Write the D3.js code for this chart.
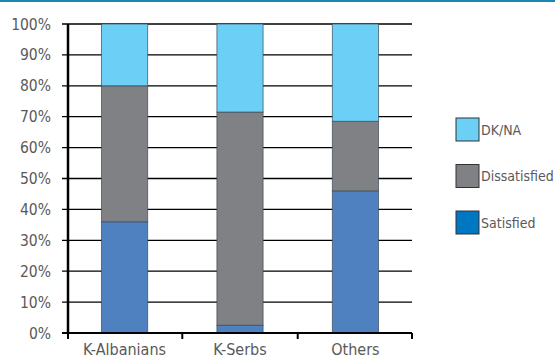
<!DOCTYPE html>
<style>
    body { margin: 0; background: #fff; }
    svg text { font-family: 'DejaVu Sans Condensed', 'Liberation Sans Narrow', sans-serif; font-stretch: condensed; fill: #595959; }
</style>
<svg width="555" height="358"></svg>
<script src="https://d3js.org/d3.v7.min.js"></script>
<script>
    // data
    var groups = ["K-Albanians", "K-Serbs", "Others"];
    var keys = ["Satisfied", "Dissatisfied", "DK/NA"];
    var satisfied = [36, 2.5, 46];
    var dissatisfied = [44, 69, 22.5];
    var dknA = [20, 28.5, 31.5];
    var yTicks = [0, 10, 20, 30, 40, 50, 60, 70, 80, 90, 100];

    var barColors = {"Satisfied": "#4f81c0", "Dissatisfied": "#808184", "DK/NA": "#6bcff6"};
    var legendColors = {"Satisfied": "#0077c2", "Dissatisfied": "#808184", "DK/NA": "#6bcff6"};

    var svg = d3.select("svg");
    var margin = {left: 68, top: 24, right: 143, bottom: 25};
    var width = 412 - 68, height = 333 - 24;

    // thin blue rule on top
    svg.append("line")
        .attr("x1", 0).attr("x2", 555).attr("y1", 1).attr("y2", 1)
        .attr("stroke", "#1a87b5").attr("stroke-width", 2);

    var g = svg.append("g").attr("transform", "translate(" + margin.left + "," + margin.top + ")");

    var x = d3.scaleBand().domain(groups).range([0, width]).paddingInner(0.6).paddingOuter(0.29);
    var y = d3.scaleLinear().domain([0, 100]).range([height, 0]);

    var rows = groups.map(function (gr, i) {
        return {group: gr, "Satisfied": satisfied[i], "Dissatisfied": dissatisfied[i], "DK/NA": dknA[i]};
    });
    var stacked = d3.stack().keys(keys)(rows);

    // gridlines
    g.append("g").selectAll("line")
        .data(yTicks.slice(1))
        .enter().append("line")
        .attr("x1", -6).attr("x2", width)
        .attr("y1", function (d) { return y(d); })
        .attr("y2", function (d) { return y(d); })
        .attr("stroke", "#000").attr("stroke-width", 1.3);

    // y labels
    g.append("g").selectAll("text")
        .data(yTicks)
        .enter().append("text")
        .attr("x", -17)
        .attr("y", function (d) { return y(d); })
        .attr("dy", "0.36em")
        .attr("text-anchor", "end")
        .attr("font-size", 15.5)
        .text(function (d) { return d + "%"; });

    // bars
    g.append("g").selectAll("g")
        .data(stacked)
        .enter().append("g")
        .attr("fill", function (d) { return barColors[d.key]; })
        .selectAll("rect")
        .data(function (d) { return d; })
        .enter().append("rect")
        .attr("x", function (d) { return x(d.data.group); })
        .attr("y", function (d) { return y(d[1]); })
        .attr("height", function (d) { return y(d[0]) - y(d[1]); })
        .attr("width", x.bandwidth())
        .attr("stroke", "#3a4a55")
        .attr("stroke-opacity", 0.7)
        .attr("stroke-width", 1);

    // y axis line
    g.append("line")
        .attr("x1", 0).attr("x2", 0).attr("y1", 0).attr("y2", height)
        .attr("stroke", "#000").attr("stroke-width", 2.5);

    // x axis
    g.append("line")
        .attr("x1", -6).attr("x2", width).attr("y1", height).attr("y2", height)
        .attr("stroke", "#000").attr("stroke-width", 2);
    var bounds = [0].concat(groups.map(function (gr) { return x(gr) + x.bandwidth() + x.step() * x.paddingInner() / 2; }));
    bounds[bounds.length - 1] = width;
    g.append("g").selectAll("line")
        .data(bounds)
        .enter().append("line")
        .attr("x1", function (d) { return d; }).attr("x2", function (d) { return d; })
        .attr("y1", height).attr("y2", height + 6)
        .attr("stroke", "#000").attr("stroke-width", 2);
    g.append("g").selectAll("text")
        .data(groups)
        .enter().append("text")
        .attr("x", function (d) { return x(d) + x.bandwidth() / 2; })
        .attr("y", height + 22)
        .attr("text-anchor", "middle")
        .attr("font-size", 16)
        .text(function (d) { return d; });

    // legend
    var legend = svg.append("g").selectAll("g")
        .data(keys.slice().reverse())
        .enter().append("g")
        .attr("transform", function (d, i) { return "translate(456," + (118 + i * 46.5) + ")"; });
    legend.append("rect")
        .attr("width", 23).attr("height", 23)
        .attr("fill", function (d) { return legendColors[d]; })
        .attr("stroke", "#333").attr("stroke-width", 1);
    legend.append("text")
        .attr("x", 25).attr("y", 11.5)
        .attr("dy", "0.36em")
        .attr("font-size", 14)
        .text(function (d) { return d; });
</script>
